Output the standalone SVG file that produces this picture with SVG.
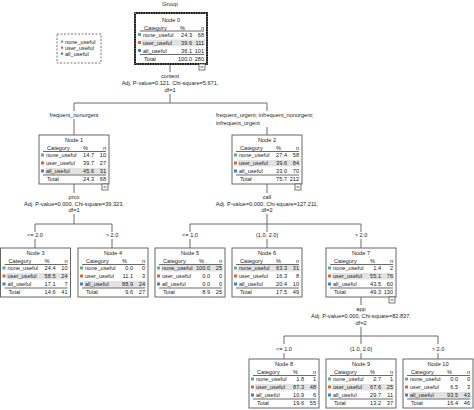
<svg xmlns="http://www.w3.org/2000/svg" width="474" height="410" viewBox="0 0 474 410">
<style>
.t{font-family:"Liberation Sans",Arial,sans-serif;font-size:5.6px;fill:#222}
.c{text-anchor:middle}
.e{text-anchor:end}
.box{fill:#fff;stroke:#666;stroke-width:1}
.rl{stroke:#444;stroke-width:0.8}
.hl{fill:#e2e2e2}
.g{fill:#4cb882}
.o{fill:#e4622f}
.b{fill:#3e7fd0}
.cn{stroke:#6a6a6a;stroke-width:1;fill:none}
.ic{fill:#fff;stroke:#555;stroke-width:0.8}
</style>
<rect width="474" height="410" fill="#fff"/>
<text class="t c" x="170" y="5.5">Group</text>

<g id="legend">
<rect x="57" y="34" width="44" height="29" fill="#fff" stroke="#777" stroke-width="1" stroke-dasharray="2 1.5"/>
<rect class="g" x="61" y="40.5" width="2.2" height="2.2"/><text class="t" x="65" y="44">none_useful</text>
<rect class="o" x="61" y="46.5" width="2.2" height="2.2"/><text class="t" x="65" y="50">user_useful</text>
<rect class="b" x="61" y="52.5" width="2.2" height="2.2"/><text class="t" x="65" y="56">all_useful</text>
</g>

<g id="connectors">
<path class="cn" d="M170 64V72M170 94V103M74 103H267M74 103V111M74 119V135M267 103V111M267 127V135"/>
<path class="cn" d="M74 184V193M74 214V224M35 224H112M35 224V232M35 239V248M112 224V232M112 239V248"/>
<path class="cn" d="M267 184V193M267 214V224M190 224H361M190 224V232M190 239V248M267 224V232M267 239V248M361 224V232M361 239V248"/>
<path class="cn" d="M361 297V305M361 327V336M284 336H438M284 336V344M284 353V359M361 336V344M361 353V359M438 336V344M438 353V359"/>
<text class="t c" x="170" y="78">context</text>
<text class="t c" x="170" y="84.5">Adj. P-value=0.121, Chi-square=5.671,</text>
<text class="t c" x="170" y="92">df=1</text>
<text class="t c" x="74" y="117">frequent_nonurgent</text>
<text class="t" x="216" y="117">frequent_urgent; infrequent_nonurgent;</text>
<text class="t" x="216" y="125">infrequent_urgent</text>
<text class="t c" x="74" y="199">prox</text>
<text class="t c" x="74" y="205.5">Adj. P-value=0.000, Chi-square=39.323,</text>
<text class="t c" x="74" y="212">df=1</text>
<text class="t c" x="35" y="237">&lt;= 2.0</text>
<text class="t c" x="112" y="237">&gt; 2.0</text>
<text class="t c" x="267" y="199">call</text>
<text class="t c" x="267" y="205.5">Adj. P-value=0.000, Chi-square=127.211,</text>
<text class="t c" x="267" y="212">df=2</text>
<text class="t c" x="190" y="237">&lt;= 1.0</text>
<text class="t c" x="267" y="237">(1.0, 2.0]</text>
<text class="t c" x="361" y="237">&gt; 2.0</text>
<text class="t c" x="361" y="311">app</text>
<text class="t c" x="361" y="318">Adj. P-value=0.000, Chi-square=82.837,</text>
<text class="t c" x="361" y="325">df=2</text>
<text class="t c" x="284" y="351">&lt;= 1.0</text>
<text class="t c" x="361" y="351">(1.0, 2.0]</text>
<text class="t c" x="438" y="351">&gt; 2.0</text>
</g>

<g id="node0">
<rect x="135" y="13" width="72" height="51" fill="#fff" stroke="#000" stroke-width="1.8"/>
<rect x="135" y="13" width="72" height="51" fill="none" stroke="#fff" stroke-width="0.7" stroke-dasharray="1 1.5"/>
<g transform="translate(136,14.5)">
<text class="t c" x="35" y="7">Node 0</text>
<text class="t" x="8" y="15">Category</text><text class="t e" x="49" y="15">%</text><text class="t e" x="68" y="15">n</text>
<line class="rl" x1="4" y1="16.5" x2="68" y2="16.5"/>
<rect class="hl" x="6" y="25" width="63" height="6.5"/>
<rect class="g" x="2" y="18.5" width="3" height="3"/><text class="t" x="7" y="22">none_useful</text><text class="t e" x="56" y="22">24.3</text><text class="t e" x="68" y="22">68</text>
<rect class="o" x="2" y="26.5" width="3" height="3"/><text class="t" x="7" y="30">user_useful</text><text class="t e" x="56" y="30">39.6</text><text class="t e" x="68" y="30">111</text>
<rect class="b" x="2" y="34.5" width="3" height="3"/><text class="t" x="7" y="38">all_useful</text><text class="t e" x="56" y="38">36.1</text><text class="t e" x="68" y="38">101</text>
<line class="rl" x1="4" y1="40" x2="68" y2="40"/>
<text class="t" x="8" y="46">Total</text><text class="t e" x="56" y="46">100.0</text><text class="t e" x="68" y="46">280</text>
</g>
<rect class="ic" x="199" y="64" width="6" height="6"/><line stroke="#333" stroke-width="0.8" x1="200.5" y1="67" x2="203.5" y2="67"/>
</g>

<g id="node1" transform="translate(39,135)">
<rect class="box" width="70" height="49"/>
<text class="t c" x="35" y="7">Node 1</text>
<text class="t" x="8" y="15">Category</text><text class="t e" x="49" y="15">%</text><text class="t e" x="67" y="15">n</text>
<line class="rl" x1="4" y1="16.5" x2="67" y2="16.5"/>
<rect class="hl" x="6" y="33" width="62" height="6.5"/>
<rect class="g" x="2" y="18.5" width="3" height="3"/><text class="t" x="7" y="22">none_useful</text><text class="t e" x="55" y="22">14.7</text><text class="t e" x="67" y="22">10</text>
<rect class="o" x="2" y="26.5" width="3" height="3"/><text class="t" x="7" y="30">user_useful</text><text class="t e" x="55" y="30">39.7</text><text class="t e" x="67" y="30">27</text>
<rect class="b" x="2" y="34.5" width="3" height="3"/><text class="t" x="7" y="38">all_useful</text><text class="t e" x="55" y="38">45.6</text><text class="t e" x="67" y="38">31</text>
<line class="rl" x1="4" y1="40" x2="67" y2="40"/>
<text class="t" x="8" y="46">Total</text><text class="t e" x="55" y="46">24.3</text><text class="t e" x="67" y="46">68</text>
<rect class="ic" x="63" y="49" width="6" height="6"/><line stroke="#333" stroke-width="0.8" x1="64.5" y1="52" x2="67.5" y2="52"/>
</g>

<g id="node2" transform="translate(232,135)">
<rect class="box" width="70" height="49"/>
<text class="t c" x="35" y="7">Node 2</text>
<text class="t" x="8" y="15">Category</text><text class="t e" x="49" y="15">%</text><text class="t e" x="67" y="15">n</text>
<line class="rl" x1="4" y1="16.5" x2="67" y2="16.5"/>
<rect class="hl" x="6" y="25" width="62" height="6.5"/>
<rect class="g" x="2" y="18.5" width="3" height="3"/><text class="t" x="7" y="22">none_useful</text><text class="t e" x="55" y="22">27.4</text><text class="t e" x="67" y="22">58</text>
<rect class="o" x="2" y="26.5" width="3" height="3"/><text class="t" x="7" y="30">user_useful</text><text class="t e" x="55" y="30">39.6</text><text class="t e" x="67" y="30">84</text>
<rect class="b" x="2" y="34.5" width="3" height="3"/><text class="t" x="7" y="38">all_useful</text><text class="t e" x="55" y="38">33.0</text><text class="t e" x="67" y="38">70</text>
<line class="rl" x1="4" y1="40" x2="67" y2="40"/>
<text class="t" x="8" y="46">Total</text><text class="t e" x="55" y="46">75.7</text><text class="t e" x="67" y="46">212</text>
<rect class="ic" x="63" y="49" width="6" height="6"/><line stroke="#333" stroke-width="0.8" x1="64.5" y1="52" x2="67.5" y2="52"/>
</g>

<g id="node3" transform="translate(0.5,248)">
<rect class="box" width="70" height="49"/>
<text class="t c" x="35" y="7">Node 3</text>
<text class="t" x="8" y="15">Category</text><text class="t e" x="49" y="15">%</text><text class="t e" x="67" y="15">n</text>
<line class="rl" x1="4" y1="16.5" x2="67" y2="16.5"/>
<rect class="hl" x="6" y="25" width="62" height="6.5"/>
<rect class="g" x="2" y="18.5" width="3" height="3"/><text class="t" x="7" y="22">none_useful</text><text class="t e" x="55" y="22">24.4</text><text class="t e" x="67" y="22">10</text>
<rect class="o" x="2" y="26.5" width="3" height="3"/><text class="t" x="7" y="30">user_useful</text><text class="t e" x="55" y="30">58.5</text><text class="t e" x="67" y="30">24</text>
<rect class="b" x="2" y="34.5" width="3" height="3"/><text class="t" x="7" y="38">all_useful</text><text class="t e" x="55" y="38">17.1</text><text class="t e" x="67" y="38">7</text>
<line class="rl" x1="4" y1="40" x2="67" y2="40"/>
<text class="t" x="8" y="46">Total</text><text class="t e" x="55" y="46">14.6</text><text class="t e" x="67" y="46">41</text>
</g>

<g id="node4" transform="translate(78,248)">
<rect class="box" width="70" height="49"/>
<text class="t c" x="35" y="7">Node 4</text>
<text class="t" x="8" y="15">Category</text><text class="t e" x="49" y="15">%</text><text class="t e" x="67" y="15">n</text>
<line class="rl" x1="4" y1="16.5" x2="67" y2="16.5"/>
<rect class="hl" x="6" y="33" width="62" height="6.5"/>
<rect class="g" x="2" y="18.5" width="3" height="3"/><text class="t" x="7" y="22">none_useful</text><text class="t e" x="55" y="22">0.0</text><text class="t e" x="67" y="22">0</text>
<rect class="o" x="2" y="26.5" width="3" height="3"/><text class="t" x="7" y="30">user_useful</text><text class="t e" x="55" y="30">11.1</text><text class="t e" x="67" y="30">3</text>
<rect class="b" x="2" y="34.5" width="3" height="3"/><text class="t" x="7" y="38">all_useful</text><text class="t e" x="55" y="38">88.9</text><text class="t e" x="67" y="38">24</text>
<line class="rl" x1="4" y1="40" x2="67" y2="40"/>
<text class="t" x="8" y="46">Total</text><text class="t e" x="55" y="46">9.6</text><text class="t e" x="67" y="46">27</text>
</g>

<g id="node5" transform="translate(155,248)">
<rect class="box" width="70" height="49"/>
<text class="t c" x="35" y="7">Node 5</text>
<text class="t" x="8" y="15">Category</text><text class="t e" x="49" y="15">%</text><text class="t e" x="67" y="15">n</text>
<line class="rl" x1="4" y1="16.5" x2="67" y2="16.5"/>
<rect class="hl" x="6" y="17" width="62" height="6.5"/>
<rect class="g" x="2" y="18.5" width="3" height="3"/><text class="t" x="7" y="22">none_useful</text><text class="t e" x="55" y="22">100.0</text><text class="t e" x="67" y="22">25</text>
<rect class="o" x="2" y="26.5" width="3" height="3"/><text class="t" x="7" y="30">user_useful</text><text class="t e" x="55" y="30">0.0</text><text class="t e" x="67" y="30">0</text>
<rect class="b" x="2" y="34.5" width="3" height="3"/><text class="t" x="7" y="38">all_useful</text><text class="t e" x="55" y="38">0.0</text><text class="t e" x="67" y="38">0</text>
<line class="rl" x1="4" y1="40" x2="67" y2="40"/>
<text class="t" x="8" y="46">Total</text><text class="t e" x="55" y="46">8.9</text><text class="t e" x="67" y="46">25</text>
</g>

<g id="node6" transform="translate(232,248)">
<rect class="box" width="70" height="49"/>
<text class="t c" x="35" y="7">Node 6</text>
<text class="t" x="8" y="15">Category</text><text class="t e" x="49" y="15">%</text><text class="t e" x="67" y="15">n</text>
<line class="rl" x1="4" y1="16.5" x2="67" y2="16.5"/>
<rect class="hl" x="6" y="17" width="62" height="6.5"/>
<rect class="g" x="2" y="18.5" width="3" height="3"/><text class="t" x="7" y="22">none_useful</text><text class="t e" x="55" y="22">63.3</text><text class="t e" x="67" y="22">31</text>
<rect class="o" x="2" y="26.5" width="3" height="3"/><text class="t" x="7" y="30">user_useful</text><text class="t e" x="55" y="30">16.3</text><text class="t e" x="67" y="30">8</text>
<rect class="b" x="2" y="34.5" width="3" height="3"/><text class="t" x="7" y="38">all_useful</text><text class="t e" x="55" y="38">20.4</text><text class="t e" x="67" y="38">10</text>
<line class="rl" x1="4" y1="40" x2="67" y2="40"/>
<text class="t" x="8" y="46">Total</text><text class="t e" x="55" y="46">17.5</text><text class="t e" x="67" y="46">49</text>
</g>

<g id="node7" transform="translate(326,248)">
<rect class="box" width="70" height="49"/>
<text class="t c" x="35" y="7">Node 7</text>
<text class="t" x="8" y="15">Category</text><text class="t e" x="49" y="15">%</text><text class="t e" x="67" y="15">n</text>
<line class="rl" x1="4" y1="16.5" x2="67" y2="16.5"/>
<rect class="hl" x="6" y="25" width="62" height="6.5"/>
<rect class="g" x="2" y="18.5" width="3" height="3"/><text class="t" x="7" y="22">none_useful</text><text class="t e" x="55" y="22">1.4</text><text class="t e" x="67" y="22">2</text>
<rect class="o" x="2" y="26.5" width="3" height="3"/><text class="t" x="7" y="30">user_useful</text><text class="t e" x="55" y="30">55.1</text><text class="t e" x="67" y="30">76</text>
<rect class="b" x="2" y="34.5" width="3" height="3"/><text class="t" x="7" y="38">all_useful</text><text class="t e" x="55" y="38">43.5</text><text class="t e" x="67" y="38">60</text>
<line class="rl" x1="4" y1="40" x2="67" y2="40"/>
<text class="t" x="8" y="46">Total</text><text class="t e" x="55" y="46">49.3</text><text class="t e" x="67" y="46">130</text>
<rect class="ic" x="63" y="49" width="6" height="6"/><line stroke="#333" stroke-width="0.8" x1="64.5" y1="52" x2="67.5" y2="52"/>
</g>

<g id="node8" transform="translate(249,359)">
<rect class="box" width="70" height="49"/>
<text class="t c" x="35" y="7">Node 8</text>
<text class="t" x="8" y="15">Category</text><text class="t e" x="49" y="15">%</text><text class="t e" x="67" y="15">n</text>
<line class="rl" x1="4" y1="16.5" x2="67" y2="16.5"/>
<rect class="hl" x="6" y="25" width="62" height="6.5"/>
<rect class="g" x="2" y="18.5" width="3" height="3"/><text class="t" x="7" y="22">none_useful</text><text class="t e" x="55" y="22">1.8</text><text class="t e" x="67" y="22">1</text>
<rect class="o" x="2" y="26.5" width="3" height="3"/><text class="t" x="7" y="30">user_useful</text><text class="t e" x="55" y="30">87.3</text><text class="t e" x="67" y="30">48</text>
<rect class="b" x="2" y="34.5" width="3" height="3"/><text class="t" x="7" y="38">all_useful</text><text class="t e" x="55" y="38">10.9</text><text class="t e" x="67" y="38">6</text>
<line class="rl" x1="4" y1="40" x2="67" y2="40"/>
<text class="t" x="8" y="46">Total</text><text class="t e" x="55" y="46">19.6</text><text class="t e" x="67" y="46">55</text>
</g>

<g id="node9" transform="translate(326,359)">
<rect class="box" width="70" height="49"/>
<text class="t c" x="35" y="7">Node 9</text>
<text class="t" x="8" y="15">Category</text><text class="t e" x="49" y="15">%</text><text class="t e" x="67" y="15">n</text>
<line class="rl" x1="4" y1="16.5" x2="67" y2="16.5"/>
<rect class="hl" x="6" y="25" width="62" height="6.5"/>
<rect class="g" x="2" y="18.5" width="3" height="3"/><text class="t" x="7" y="22">none_useful</text><text class="t e" x="55" y="22">2.7</text><text class="t e" x="67" y="22">1</text>
<rect class="o" x="2" y="26.5" width="3" height="3"/><text class="t" x="7" y="30">user_useful</text><text class="t e" x="55" y="30">67.6</text><text class="t e" x="67" y="30">25</text>
<rect class="b" x="2" y="34.5" width="3" height="3"/><text class="t" x="7" y="38">all_useful</text><text class="t e" x="55" y="38">29.7</text><text class="t e" x="67" y="38">11</text>
<line class="rl" x1="4" y1="40" x2="67" y2="40"/>
<text class="t" x="8" y="46">Total</text><text class="t e" x="55" y="46">13.2</text><text class="t e" x="67" y="46">37</text>
</g>

<g id="node10" transform="translate(403,359)">
<rect class="box" width="70" height="49"/>
<text class="t c" x="35" y="7">Node 10</text>
<text class="t" x="8" y="15">Category</text><text class="t e" x="49" y="15">%</text><text class="t e" x="67" y="15">n</text>
<line class="rl" x1="4" y1="16.5" x2="67" y2="16.5"/>
<rect class="hl" x="6" y="33" width="62" height="6.5"/>
<rect class="g" x="2" y="18.5" width="3" height="3"/><text class="t" x="7" y="22">none_useful</text><text class="t e" x="55" y="22">0.0</text><text class="t e" x="67" y="22">0</text>
<rect class="o" x="2" y="26.5" width="3" height="3"/><text class="t" x="7" y="30">user_useful</text><text class="t e" x="55" y="30">6.5</text><text class="t e" x="67" y="30">3</text>
<rect class="b" x="2" y="34.5" width="3" height="3"/><text class="t" x="7" y="38">all_useful</text><text class="t e" x="55" y="38">93.5</text><text class="t e" x="67" y="38">43</text>
<line class="rl" x1="4" y1="40" x2="67" y2="40"/>
<text class="t" x="8" y="46">Total</text><text class="t e" x="55" y="46">16.4</text><text class="t e" x="67" y="46">46</text>
</g>
</svg>
